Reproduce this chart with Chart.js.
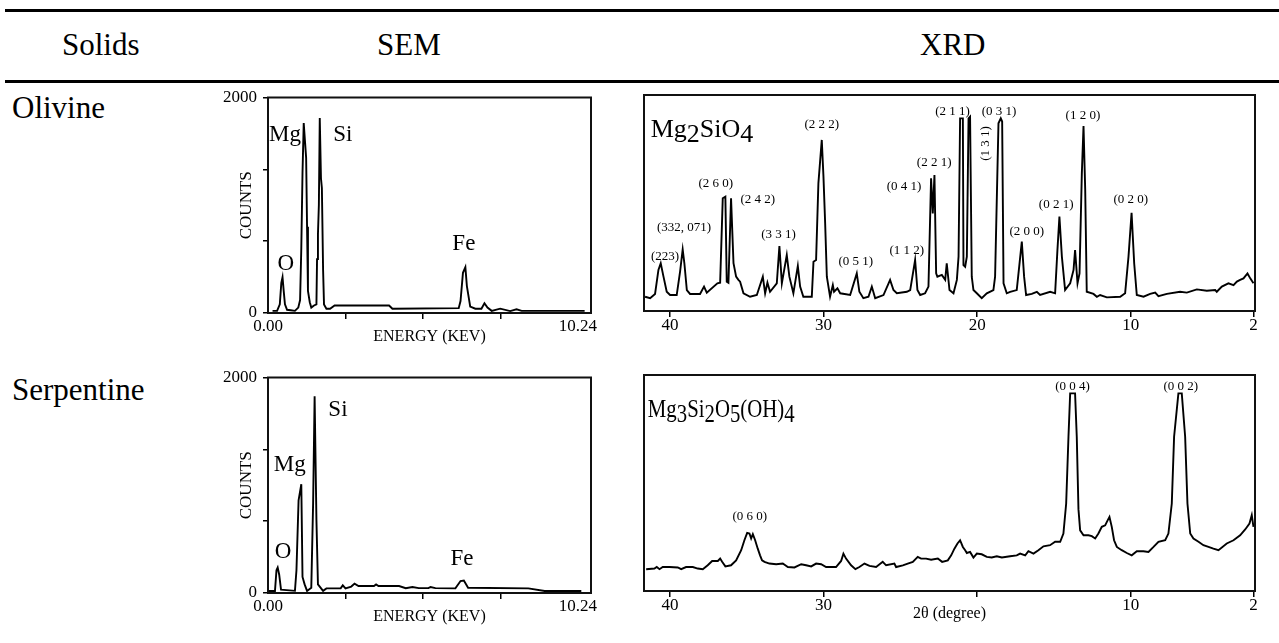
<!doctype html>
<html>
<head>
    <meta charset="UTF-8"/>
    <title>Olivine and serpentine: SEM and XRD</title>
    <style type="text/css">
        body{ margin:0; background:#fff; }
        .page{ position:relative; width:1279px; height:643px; font-family:"Liberation Serif","Times New Roman",serif; color:#000; }
        .rule{ position:absolute; left:5px; right:0; height:3px; background:#000; }
        .txt{ position:absolute; font-size:31px; line-height:31px; white-space:nowrap; }
        canvas{ position:absolute; }
    </style>
</head>
<body>
<div class="page">
    <div class="rule" style="top:9px"></div>
    <div class="rule" style="top:80px"></div>
    <div class="txt" style="left:62px; top:29px">Solids</div>
    <div class="txt" style="left:377px; top:29px">SEM</div>
    <div class="txt" style="left:920px; top:29px">XRD</div>
    <div class="txt" style="left:12px; top:92px">Olivine</div>
    <div class="txt" style="left:12px; top:374px">Serpentine</div>

    <canvas id="semOlivine" width="395" height="263" style="left:205px; top:85px"></canvas>
    <canvas id="semSerpentine" width="395" height="263" style="left:205px; top:365px"></canvas>
    <canvas id="xrdOlivine" width="640" height="260" style="left:630px; top:80px"></canvas>
    <canvas id="xrdSerpentine" width="640" height="263" style="left:630px; top:360px"></canvas>
</div>

<script src="https://cdn.jsdelivr.net/npm/chart.js"></script>
<script>
    // SEM (EDS) spectra: energy in keV, counts
    const semOlivineKeV = [0.15, 0.30, 0.39, 0.44, 0.48, 0.52, 0.56, 0.63, 0.75, 0.89, 1.00, 1.06, 1.10, 1.14, 1.18, 1.22, 1.26, 1.29, 1.32, 1.38, 1.43, 1.52, 1.60, 1.62, 1.65, 1.68, 1.71, 1.75, 1.78, 1.82, 1.85, 1.93, 2.05, 2.20, 4.00, 4.11, 6.30, 6.36, 6.44, 6.52, 6.57, 6.68, 6.85, 7.05, 7.15, 7.25, 7.39, 7.67, 8.00, 8.21, 8.38, 9.00, 10.46];
    const semOlivineCounts = [20, 20, 80, 280, 333, 200, 80, 30, 25, 20, 50, 120, 600, 1300, 1762, 1600, 1440, 800, 204, 100, 50, 70, 80, 500, 729, 1000, 1809, 1250, 1160, 400, 80, 40, 40, 70, 70, 40, 45, 111, 373, 426, 250, 60, 40, 40, 90, 50, 20, 40, 18, 35, 20, 20, 20];

    const semSerpKeV = [0.00, 0.23, 0.28, 0.32, 0.37, 0.43, 0.89, 0.94, 1.01, 1.10, 1.14, 1.21, 1.29, 1.43, 1.49, 1.54, 1.60, 1.65, 1.82, 1.93, 2.40, 2.47, 2.56, 2.75, 2.86, 2.99, 3.50, 3.57, 3.65, 4.33, 4.55, 4.77, 4.98, 5.30, 5.37, 5.53, 6.19, 6.36, 6.47, 6.61, 8.60, 9.14, 10.35];
    const semSerpCounts = [19, 19, 211, 236, 170, 31, 20, 211, 860, 1009, 149, 80, 19, 49, 829, 1825, 675, 80, 20, 43, 43, 71, 43, 60, 87, 65, 65, 80, 65, 65, 45, 56, 45, 45, 56, 45, 43, 111, 115, 49, 43, 19, 19];

    const semTicks = [0, 2.56, 5.12, 7.68, 10.24];
    const semCountTicks = [0, 2000 / 3, 4000 / 3, 2000];

    const semElements = ['O', 'Mg', 'Si', 'Fe'];
    const semOlivineElKeV = [0.59, 0.56, 2.47, 6.47];
    const semOlivineElCounts = [457, 1655, 1655, 642];
    const semSerpElKeV = [0.50, 0.72, 2.31, 6.41];
    const semSerpElCounts = [380, 1185, 1695, 319];

    // XRD patterns: 2theta in degrees, relative intensity (0-100 of frame)
    const xrdOlivineTheta = [41.63, 41.30, 40.98, 40.76, 40.61, 40.43, 40.22, 40.00, 39.57, 39.35,
        39.18, 39.07, 38.91, 38.70, 38.05, 37.79, 37.61, 36.92, 36.74, 36.57,
        36.40, 36.31, 36.20, 36.03, 35.87, 35.70, 35.55, 35.44, 35.22, 34.79,
        34.35, 33.96, 33.81, 33.66, 33.49, 33.05, 32.88, 32.72, 32.40, 32.23,
        31.97, 31.68, 31.53, 31.32, 30.77, 30.66, 30.49, 30.34, 30.12, 30.01,
        29.90, 29.79, 29.58, 29.40, 29.32, 29.10, 28.92, 28.27, 27.84, 27.67,
        27.41, 27.08, 26.86, 26.64, 26.10, 25.67, 25.45, 25.23, 24.58, 24.36,
        24.04, 23.89, 23.71, 23.39, 23.17, 23.00, 22.89, 22.78, 22.67, 22.59,
        22.30, 22.08, 21.98, 21.80, 21.54, 21.32, 21.21, 21.11, 20.93, 20.89,
        20.78, 20.67, 20.56, 20.46, 20.35, 20.24, 20.02, 19.70, 19.37, 18.94,
        18.83, 18.61, 18.46, 18.37, 18.28, 18.07, 17.85, 17.42, 17.26, 17.09,
        16.94, 16.81, 16.44, 16.11, 15.90, 15.24, 14.92, 14.77, 14.64, 14.48,
        14.27, 13.94, 13.72, 13.62, 13.46, 13.33, 13.18, 13.07, 12.96, 12.86,
        12.42, 12.20, 11.99, 11.55, 10.68, 10.36, 10.14, 9.94, 9.77, 9.60,
        9.16, 8.73, 8.40, 8.19, 7.64, 6.78, 6.34, 5.69, 5.04, 4.49,
        4.39, 4.06, 3.63, 3.30, 3.08, 2.87, 2.65, 2.39, 2.21, 2.00];
    const xrdOlivineInt = [6.6, 5.9, 7.9, 19.0, 22.1, 15.9, 8.9, 7.4, 7.4, 18.2,
        28.5, 22.1, 9.7, 7.9, 7.9, 11.3, 8.5, 12.8, 13.1, 52.2,
        52.9, 13.6, 13.1, 52.2, 22.1, 15.9, 14.4, 13.6, 8.2, 6.6,
        7.4, 15.9, 8.2, 13.1, 8.9, 12.8, 30.1, 12.8, 25.9, 15.9,
        8.2, 20.8, 11.3, 6.6, 6.6, 22.8, 23.6, 59.1, 79.2, 62.2,
        40.6, 15.9, 6.6, 12.0, 8.9, 10.5, 8.2, 7.4, 17.4, 8.9,
        5.9, 6.6, 11.3, 5.9, 7.4, 14.4, 9.7, 8.2, 8.9, 9.7,
        23.6, 9.7, 7.4, 8.2, 11.3, 61.4, 45.2, 63.0, 17.4, 15.9,
        16.7, 14.4, 22.1, 9.7, 8.2, 14.4, 25.2, 89.2, 89.2, 21.3,
        20.5, 25.2, 89.2, 90.0, 15.9, 9.7, 8.2, 5.9, 8.2, 9.7,
        15.9, 86.9, 89.2, 87.7, 12.8, 8.2, 8.9, 9.7, 20.5, 32.1,
        15.9, 7.4, 7.9, 8.9, 7.4, 8.9, 8.2, 28.2, 43.7, 25.2,
        9.7, 12.8, 19.0, 28.2, 12.8, 17.4, 63.7, 85.6, 56.0, 8.9,
        7.9, 6.6, 7.4, 6.3, 6.6, 8.2, 25.2, 45.5, 22.1, 7.4,
        6.6, 7.9, 8.5, 6.9, 7.9, 8.9, 8.5, 10.0, 9.4, 9.7,
        8.9, 11.3, 12.8, 12.0, 13.6, 14.4, 15.1, 17.4, 15.1, 12.8];

    const xrdSerpTheta = [41.56, 41.02, 40.87, 40.69, 40.48, 40.04, 39.50, 39.28, 38.96, 38.52,
        38.20, 37.87, 37.55, 37.26, 36.89, 36.74, 36.61, 36.40, 36.03, 35.70,
        35.37, 35.16, 34.98, 34.83, 34.72, 34.61, 34.46, 34.29, 34.14, 34.01,
        33.85, 33.53, 33.09, 32.66, 32.33, 31.90, 31.46, 31.14, 30.81, 30.49,
        30.16, 29.84, 29.19, 28.86, 28.71, 28.54, 28.21, 27.93, 27.67, 27.34,
        27.01, 26.58, 26.15, 25.93, 25.39, 25.28, 24.84, 24.52, 24.19, 23.87,
        23.65, 23.32, 23.00, 22.56, 22.28, 21.91, 21.69, 21.48, 21.28, 21.11,
        20.93, 20.78, 20.67, 20.46, 20.24, 20.02, 19.70, 19.37, 19.05, 18.72,
        18.39, 17.85, 17.42, 17.20, 16.87, 16.66, 16.33, 16.01, 15.68, 15.25,
        14.92, 14.59, 14.38, 14.20, 14.05, 13.94, 13.62, 13.51, 13.40, 13.29,
        13.07, 12.75, 12.53, 12.31, 12.10, 11.88, 11.66, 11.55, 11.38, 11.23,
        11.08, 10.90, 10.58, 10.25, 9.93, 9.60, 9.17, 8.84, 8.51, 8.19,
        7.75, 7.54, 7.32, 7.17, 6.89, 6.67, 6.45, 6.30, 6.12, 5.91,
        5.58, 5.26, 4.93, 4.61, 4.28, 3.74, 3.30, 2.87, 2.54, 2.26,
        2.11, 2.00];
    const xrdSerpInt = [10.1, 10.4, 11.1, 10.1, 11.1, 11.1, 10.9, 10.1, 11.1, 11.1,
        10.4, 10.1, 11.9, 13.9, 13.9, 15.0, 13.5, 11.4, 11.9, 14.2,
        18.9, 23.5, 26.9, 26.6, 24.3, 26.3, 23.5, 19.6, 16.5, 14.2,
        13.5, 12.7, 12.4, 12.7, 11.1, 10.9, 12.4, 11.9, 11.4, 12.7,
        12.4, 11.1, 11.1, 13.9, 17.3, 15.0, 11.9, 10.1, 11.1, 12.7,
        11.6, 11.1, 13.5, 11.9, 12.7, 11.1, 11.9, 12.7, 13.5, 15.8,
        15.0, 15.0, 14.5, 15.0, 13.5, 14.2, 16.5, 19.6, 22.0, 23.5,
        20.4, 18.9, 17.6, 18.1, 15.5, 17.3, 17.0, 15.8, 15.5, 16.1,
        15.5, 16.1, 16.5, 17.3, 16.5, 18.4, 17.3, 18.9, 20.7, 21.2,
        22.8, 22.8, 26.6, 40.5, 71.4, 91.5, 91.5, 71.4, 37.9, 28.1,
        25.8, 25.8, 25.4, 24.3, 26.6, 29.7, 30.4, 32.0, 34.3, 29.7,
        23.5, 20.4, 18.9, 17.6, 16.5, 18.4, 18.4, 18.1, 20.4, 22.8,
        23.5, 26.6, 40.5, 71.4, 91.5, 91.5, 71.4, 40.5, 26.6, 24.3,
        22.8, 21.2, 20.4, 19.6, 18.9, 22.0, 23.5, 25.8, 28.5, 31.2,
        35.1, 29.7];

    const xrdTicks = [40, 30, 20, 10, 2];
    const xrdOlivineTickLabels = ['40', '30', '20', '10', '2'];
    const xrdSerpTickLabels = ['40', '30', '', '10', '2'];   // "20" gives way to the axis title

    const olivinePeakNames = ['(223)', '(332, 071)', '(2 6 0)', '(2 4 2)', '(3 3 1)', '(2 2 2)', '(0 5 1)', '(1 1 2)', '(0 4 1)', '(2 2 1)', '(2 1 1)', '(0 3 1)', '(1 2 0)', '(0 2 1)', '(2 0 0)', '(0 2 0)'];
    const olivinePeakTheta = [40.33, 39.09, 37.02, 34.29, 32.94, 30.12, 27.90, 24.58, 24.76, 22.80, 21.60, 18.57, 13.11, 14.85, 16.76, 9.99];
    const olivinePeakInt = [25.1, 38.4, 59.1, 51.4, 35.2, 86.1, 22.8, 28.2, 57.5, 68.6, 92.3, 92.3, 90.7, 49.1, 36.7, 51.4];
    const olivineSidePeak = ['(1 3 1)'];
    const olivineSideTheta = [19.48];
    const olivineSideInt = [77.6];

    const serpPeakNames = ['(0 6 0)', '(0 0 4)', '(0 0 2)'];
    const serpPeakTheta = [34.81, 13.79, 6.73];
    const serpPeakInt = [34.3, 94.6, 94.6];

    const FONT = '"Liberation Serif", "Times New Roman", serif';

    // frame round the plot area
    const frameBox = {
        id: 'frameBox',
        afterDatasetsDraw(chart) {
            const a = chart.chartArea, ctx = chart.ctx;
            ctx.save();
            ctx.strokeStyle = '#111';
            ctx.lineWidth = 2;
            ctx.strokeRect(a.left, a.top, a.right - a.left, a.bottom - a.top);
            ctx.restore();
        }
    };

    // peak / element / formula labels, placed in data coordinates
    const peakText = {
        id: 'peakText',
        afterDatasetsDraw(chart, args, opts) {
            const ctx = chart.ctx, x = chart.scales.x, y = chart.scales.y;
            ctx.save();
            ctx.fillStyle = '#000';
            (opts.items || []).forEach(it => {
                const px = x.getPixelForValue(it.x), py = y.getPixelForValue(it.y);
                ctx.font = it.size + 'px ' + FONT;
                ctx.save();
                ctx.translate(px, py);
                if (it.parts) {
                    // formula with lowered digits, squeezed a little like the original
                    ctx.scale(it.squeeze || 1, 1);
                    ctx.textAlign = 'left';
                    ctx.textBaseline = 'alphabetic';
                    let cx = 0;
                    it.parts.forEach(p => {
                        ctx.fillText(p[0], cx, p[1] ? it.sub : 0);
                        cx += ctx.measureText(p[0]).width;
                    });
                } else {
                    ctx.textAlign = 'center';
                    ctx.textBaseline = 'middle';
                    if (it.rot) ctx.rotate(it.rot);
                    ctx.fillText(it.text, 0, 0);
                }
                ctx.restore();
            });
            ctx.restore();
        }
    };

    function toPoints(xs, ys) {
        return xs.map((v, i) => ({x: v, y: ys[i]}));
    }

    function textItems(names, xs, ys, size, rot) {
        return names.map((t, i) => ({text: t, x: xs[i], y: ys[i], size: size, rot: rot || 0}));
    }

    function semChart(id, keV, counts, elKeV, elCounts) {
        return new Chart(document.getElementById(id), {
            type: 'line',
            data: {
                datasets: [{
                    data: toPoints(keV, counts),
                    borderColor: '#000',
                    borderWidth: 1.9,
                    pointRadius: 0,
                    tension: 0,
                    fill: false
                }]
            },
            options: {
                responsive: false,
                animation: false,
                events: [],
                layout: {padding: {left: 0, right: 9, top: 12.5, bottom: 0}},
                plugins: {
                    legend: {display: false},
                    tooltip: {enabled: false},
                    peakText: {items: textItems(semElements, elKeV, elCounts, 23)}
                },
                scales: {
                    x: {
                        type: 'linear',
                        min: 0,
                        max: 10.67,
                        afterBuildTicks: s => { s.ticks = semTicks.map(v => ({value: v})); },
                        afterFit: s => { s.height = 35; s.paddingLeft = 0; s.paddingRight = 0; },
                        ticks: {
                            autoSkip: false, maxRotation: 0, padding: -3, color: '#000',
                            font: {family: FONT, size: 17},
                            callback: (v, i) => i === 0 ? '0.00' : (i === 4 ? '10.24' : '')
                        },
                        grid: {
                            drawOnChartArea: false, tickLength: 6, lineWidth: 1.5,
                            color: c => (c.index === 0 || c.index === 4) ? 'rgba(0,0,0,0)' : '#000'
                        },
                        border: {display: false},
                        title: {display: true, text: 'ENERGY (KEV)', color: '#000', font: {family: FONT, size: 16}, padding: {top: 0, bottom: 2}}
                    },
                    y: {
                        min: 0,
                        max: 2000,
                        afterBuildTicks: s => { s.ticks = semCountTicks.map(v => ({value: v})); },
                        afterFit: s => { s.width = 63; s.paddingTop = 0; s.paddingBottom = 0; },
                        ticks: {
                            autoSkip: false, padding: 6, color: '#000',
                            font: {family: FONT, size: 17},
                            callback: (v, i) => i === 0 ? '0' : (i === 3 ? '2000' : '')
                        },
                        grid: {drawOnChartArea: false, tickLength: 5, lineWidth: 1.5, color: '#000'},
                        border: {display: false},
                        title: {display: true, text: 'COUNTS', color: '#000', font: {family: FONT, size: 17}, padding: {top: 31, bottom: 0}}
                    }
                }
            },
            plugins: [frameBox, peakText]
        });
    }

    function xrdChart(id, theta, intensity, items, tickLabels, xHeight, titleText) {
        return new Chart(document.getElementById(id), {
            type: 'line',
            data: {
                datasets: [{
                    data: toPoints(theta, intensity),
                    borderColor: '#000',
                    borderWidth: 1.9,
                    pointRadius: 0,
                    tension: 0,
                    fill: false
                }]
            },
            options: {
                responsive: false,
                animation: false,
                events: [],
                layout: {padding: {left: 14, right: 15, top: 15, bottom: 0}},
                plugins: {
                    legend: {display: false},
                    tooltip: {enabled: false},
                    peakText: {items: items}
                },
                scales: {
                    x: {
                        type: 'linear',
                        reverse: true,
                        min: 1.9,
                        max: 41.7,
                        afterBuildTicks: s => { s.ticks = xrdTicks.map(v => ({value: v})); },
                        afterFit: s => { s.height = xHeight; s.paddingLeft = 0; s.paddingRight = 0; },
                        ticks: {
                            autoSkip: false, maxRotation: 0, padding: -2, color: '#000',
                            font: {family: FONT, size: 17},
                            callback: (v, i) => tickLabels[i]
                        },
                        grid: {drawOnChartArea: false, tickLength: 6, lineWidth: 1.5, color: '#000'},
                        border: {display: false},
                        title: {display: !!titleText, text: titleText || '', color: '#000', font: {family: FONT, size: 16}, padding: 0}
                    },
                    y: {display: false, min: 0, max: 100}
                }
            },
            plugins: [frameBox, peakText]
        });
    }

    semChart('semOlivine', semOlivineKeV, semOlivineCounts, semOlivineElKeV, semOlivineElCounts);
    semChart('semSerpentine', semSerpKeV, semSerpCounts, semSerpElKeV, semSerpElCounts);

    const olivineItems = textItems(olivinePeakNames, olivinePeakTheta, olivinePeakInt, 13)
        .concat(textItems(olivineSidePeak, olivineSideTheta, olivineSideInt, 13, -Math.PI / 2))
        .concat([{x: 41.26, y: 80.7, size: 26, sub: 5,
            parts: [['Mg', 0], ['2', 1], ['SiO', 0], ['4', 1]]}]);
    xrdChart('xrdOlivine', xrdOlivineTheta, xrdOlivineInt, olivineItems, xrdOlivineTickLabels, 29, '');

    const serpItems = textItems(serpPeakNames, serpPeakTheta, serpPeakInt, 13)
        .concat([{x: 41.45, y: 80.7, size: 26, sub: 5, squeeze: 0.8,
            parts: [['Mg', 0], ['3', 1], ['Si', 0], ['2', 1], ['O', 0], ['5', 1], ['(OH)', 0], ['4', 1]]}]);
    xrdChart('xrdSerpentine', xrdSerpTheta, xrdSerpInt, serpItems, xrdSerpTickLabels, 32, '2θ (degree)');
</script>
</body>
</html>
